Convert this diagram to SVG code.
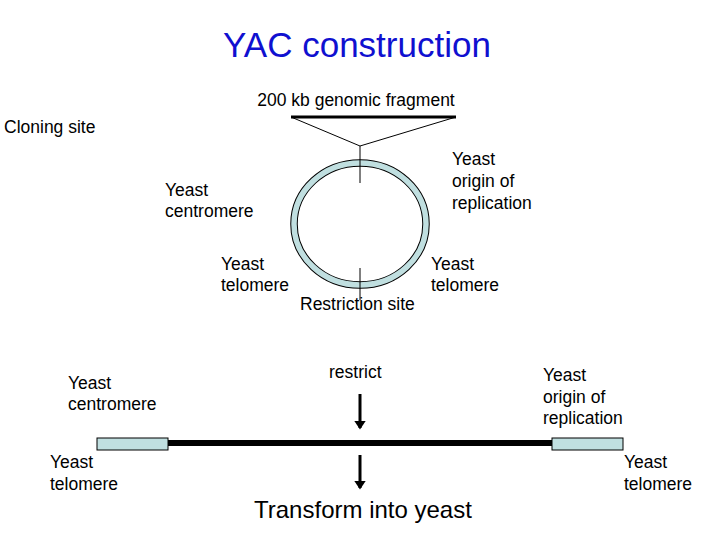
<svg xmlns="http://www.w3.org/2000/svg" width="720" height="540" viewBox="0 0 720 540">
<style>
text{font-family:"Liberation Sans",Arial,sans-serif;font-size:17.5px;fill:#000}
.box{fill:#c0dfe0;stroke:#000;stroke-width:1}
</style>
<defs><marker id="ah" markerWidth="4" markerHeight="4" refX="2.5" refY="2" orient="auto"><path d="M0,0L3,2L0,4Z" fill="#000"/></marker></defs>
<rect width="720" height="540" fill="#fff"/>
<text x="357" y="57" text-anchor="middle" style="font-size:35px;fill:#1010d0">YAC construction</text>
<g id="fragment">
<line x1="291" y1="117" x2="456" y2="117" stroke="#000" stroke-width="3"/>
<text x="356" y="106" text-anchor="middle">200 kb genomic fragment</text>
</g>
<g id="plasmid">
<ellipse cx="360" cy="224" rx="66" ry="61" fill="none" stroke="#000" stroke-width="7.5"/>
<ellipse cx="360" cy="224" rx="66" ry="61" fill="none" stroke="#c0dfe0" stroke-width="5.5"/>
</g>
<g id="labels">
<text x="4" y="133">Cloning site</text>
<text x="165" y="196">Yeast</text><text x="165" y="217">centromere</text>
<text x="452" y="165">Yeast</text><text x="452" y="187">origin of</text><text x="452" y="209">replication</text>
<text x="221" y="270">Yeast</text><text x="221" y="291">telomere</text>
<text x="431" y="270">Yeast</text><text x="431" y="291">telomere</text>
<text x="300" y="310">Restriction site</text>
<text x="329" y="378">restrict</text>
<text x="68" y="389">Yeast</text><text x="68" y="410">centromere</text>
<text x="543" y="381">Yeast</text><text x="543" y="403">origin of</text><text x="543" y="424">replication</text>
<text x="50" y="468">Yeast</text><text x="50" y="490">telomere</text>
<text x="624" y="468">Yeast</text><text x="624" y="490">telomere</text>
<text x="254" y="518" style="font-size:24px">Transform into yeast</text>
</g>
<g id="linear">
<line x1="168" y1="443" x2="552" y2="443" stroke="#000" stroke-width="6"/>
<rect class="box" x="97" y="438" width="71" height="12"/>
<rect class="box" x="552" y="438" width="71" height="12"/>
</g>
<g id="connectors" stroke="#000" fill="none">
<path d="M291,117L360,146L456,117" stroke-width="1"/>
<line x1="360" y1="146" x2="360" y2="183" stroke-width="1"/>
<line x1="360" y1="268" x2="360" y2="300" stroke-width="1"/>
<line x1="360" y1="394" x2="360" y2="428" stroke-width="3" marker-end="url(#ah)"/>
<line x1="360" y1="455" x2="360" y2="488" stroke-width="3" marker-end="url(#ah)"/>
</g>
</svg>
